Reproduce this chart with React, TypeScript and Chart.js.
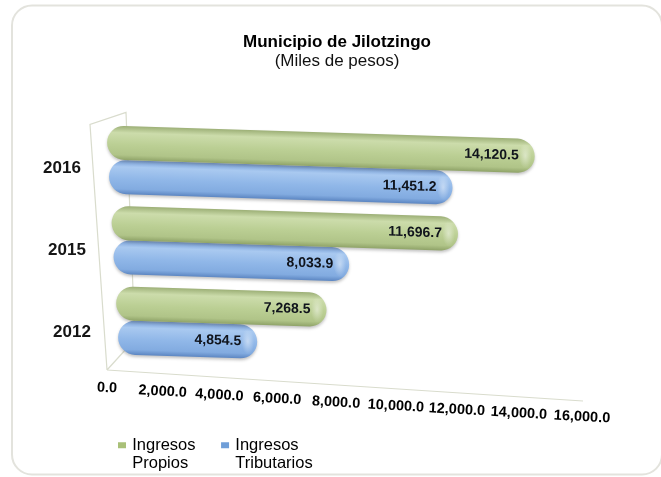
import React, { useEffect, useRef } from "react";
import { Chart, registerables } from "chart.js";

Chart.register(...registerables);

const titleText = "Municipio de Jilotzingo";
const subtitleText = "(Miles de pesos)";
const years = ["2016", "2015", "2012"];
const ingresosPropios = [14120.5, 11696.7, 7268.5];
const ingresosTributarios = [11451.2, 8033.9, 4854.5];
const axisMax = 16000;
const axisStep = 2000;
const legendPropios = ["Ingresos", "Propios"];
const legendTributarios = ["Ingresos", "Tributarios"];

const SHEAR = 0.032;
const FONT = "'Liberation Sans', Arial, sans-serif";
const fmt = (v: number) =>
  v.toLocaleString("en-US", { minimumFractionDigits: 1, maximumFractionDigits: 1 });

const palette = [
  { stops: ["#9db077", "#ccdcab", "#bbcf94", "#b0c488", "#8fa368"], swatch: "#a9c078" },
  { stops: ["#739cd6", "#a9c9f0", "#90b7e8", "#82abe0", "#5c86c2"], swatch: "#6f9ed8" },
];

const perspective: any = {
  id: "perspective",
  afterDatasetsUpdate(chart: any) {
    const { left, width, top, height } = chart.chartArea;
    chart.data.datasets.forEach((_: any, d: number) => {
      chart.getDatasetMeta(d).data.forEach((el: any) => {
        const u = (el.x - left) / width;
        const t = (el.y - top) / height;
        const start = left + 0.8 + 13.6 * t;
        const m = 1.06 - 0.07 * t;
        el.base = start;
        el.x = start + u * width * m;
        el.width = el.x - el.base;
      });
    });
  },
  beforeDraw(chart: any) {
    const { ctx, width, height } = chart;
    ctx.save();
    ctx.fillStyle = "#ffffff";
    ctx.fillRect(0, 0, width, height);
    ctx.strokeStyle = "#e3e3dd";
    ctx.lineWidth = 2;
    ctx.beginPath();
    ctx.roundRect(12, 5.5, 650, 469, 20);
    ctx.stroke();
    ctx.restore();

    const xs = chart.scales.x;
    xs.getLabelItems().forEach((item: any, i: number) => {
      const u = xs.ticks[i].value / axisMax;
      item.options.translation = [107 + 475 * u - 34 * u * (1 - u), 388 + 29 * u];
      item.options.rotation = 0.055;
      item.options.textAlign = "center";
      item.options.textBaseline = "middle";
      item.textOffset = 0;
    });
    const ys = chart.scales.y;
    ys.getLabelItems().forEach((item: any, i: number) => {
      item.options.translation = [62 + 5 * i, ys.getPixelForTick(i) + 9 + i * 1.5];
      item.options.rotation = 0;
      item.options.textAlign = "center";
      item.options.textBaseline = "middle";
      item.textOffset = 0;
    });

    // title block is centred on the framed panel, not on the plot
    chart.boxes.forEach((b: any) => {
      if (b.options && (b.options.text === titleText || b.options.text === subtitleText)) {
        b.left = 13;
        b.right = 661;
      }
    });

    // legend block sits under the plot, first text line at y = 437 top
    const leg = chart.legend;
    const pad = leg.options.labels.padding;
    leg.left = 120 - pad;
    leg.right = 600;
    leg.top = 437 - pad;
    leg.bottom = 477;
    leg.draw = function () {
      this._draw();
    };
  },
  beforeDatasetsDraw(chart: any) {
    const { ctx, chartArea } = chart;
    const { left, right, top, bottom } = chartArea;

    const fl = left + 2;
    const fb = bottom + 10;
    ctx.save();
    ctx.strokeStyle = "#d9dccd";
    ctx.lineWidth = 1.2;
    ctx.beginPath();
    ctx.moveTo(fl, fb);
    ctx.lineTo(right + 18, fb + 31);
    ctx.moveTo(fl, fb);
    ctx.lineTo(left - 15, top + 5);
    ctx.lineTo(left + 21, top - 7);
    ctx.lineTo(left + 30, bottom - 20);
    ctx.moveTo(fl, fb);
    ctx.lineTo(left + 22, bottom - 12);
    ctx.stroke();
    ctx.restore();

    chart.data.datasets.forEach((_: any, d: number) => {
      chart.getDatasetMeta(d).data.forEach((el: any) => {
        const h = el.height;
        const g = ctx.createLinearGradient(0, el.y - h / 2, 0, el.y + h / 2);
        const s = palette[d].stops;
        g.addColorStop(0, s[0]);
        g.addColorStop(0.2, s[1]);
        g.addColorStop(0.55, s[2]);
        g.addColorStop(0.85, s[3]);
        g.addColorStop(1, s[4]);
        el.options = { ...el.options, backgroundColor: g };
      });
    });

    ctx.save();
    ctx.transform(1, SHEAR, 0, 1, 0, -SHEAR * left);
    ctx.shadowColor = "rgba(90,90,90,0.35)";
    ctx.shadowBlur = 3;
    ctx.shadowOffsetY = 2;
  },
  afterDatasetsDraw(chart: any) {
    const { ctx } = chart;
    ctx.shadowColor = "transparent";
    ctx.shadowBlur = 0;
    ctx.shadowOffsetY = 0;
    chart.data.datasets.forEach((ds: any, d: number) => {
      chart.getDatasetMeta(d).data.forEach((el: any, i: number) => {
        const r = el.height / 2;
        const cx = el.x - r * 0.55;
        ctx.save();
        ctx.translate(cx, el.y);
        ctx.scale(0.5, 1);
        const g = ctx.createRadialGradient(0, 0, 0, 0, 0, r * 0.75);
        g.addColorStop(0, "rgba(255,255,255,0.45)");
        g.addColorStop(1, "rgba(255,255,255,0)");
        ctx.fillStyle = g;
        ctx.beginPath();
        ctx.arc(0, 0, r * 0.75, 0, Math.PI * 2);
        ctx.fill();
        ctx.restore();

        ctx.fillStyle = "#10141c";
        ctx.font = `bold 14px ${FONT}`;
        ctx.textAlign = "right";
        ctx.textBaseline = "middle";
        ctx.fillText(fmt(ds.data[i]), el.x - 16, el.y);
      });
    });
    ctx.restore();
  },
};

export default function App() {
  const ref = useRef<HTMLCanvasElement | null>(null);
  useEffect(() => {
    const chart = new Chart(ref.current as HTMLCanvasElement, {
      type: "bar",
      plugins: [perspective],
      data: {
        labels: years,
        datasets: [
          { label: "Ingresos Propios", data: ingresosPropios, backgroundColor: palette[0].swatch, clip: false },
          { label: "Ingresos Tributarios", data: ingresosTributarios, backgroundColor: palette[1].swatch, clip: false },
        ],
      } as any,
      options: {
        indexAxis: "y",
        animation: false,
        responsive: false,
        layout: { padding: { left: 12, right: 96, top: 33, bottom: 4 } },
        datasets: {
          bar: {
            categoryPercentage: 0.85,
            barPercentage: 1,
            borderRadius: 40,
            borderSkipped: false,
            borderWidth: 0,
          },
        },
        scales: {
          x: {
            min: 0,
            max: axisMax,
            grid: { display: false },
            border: { display: false },
            afterFit: (s: any) => { s.height = 113; },
            ticks: {
              stepSize: axisStep,
              autoSkip: false,
              maxRotation: 0,
              minRotation: 0,
              color: "#000000",
              font: { family: FONT, size: 14.5, weight: "bold" },
              callback: (v: any) => fmt(Number(v)),
            },
          },
          y: {
            grid: { display: false },
            border: { display: false },
            afterFit: (s: any) => { s.width = 93; },
            ticks: {
              color: "#151515",
              font: { family: FONT, size: 17, weight: "bold" },
            },
          },
        },
        plugins: {
          tooltip: { enabled: false },
          title: {
            display: true,
            text: titleText,
            color: "#000000",
            font: { family: FONT, size: 17, weight: "bold", lineHeight: 1.1 },
            padding: { top: 0, bottom: 0 },
          },
          subtitle: {
            display: true,
            text: subtitleText,
            color: "#111111",
            font: { family: FONT, size: 17, weight: "normal", lineHeight: 1.1 },
            padding: { top: 0, bottom: 49 },
          },
          legend: {
            position: "bottom",
            align: "start",
            labels: {
              color: "#222222",
              font: { family: FONT, size: 16.5, lineHeight: 1.1 },
              boxWidth: 4,
              boxHeight: 2,
              padding: -33,
              generateLabels: () => [
                { text: legendPropios, fillStyle: palette[0].swatch, strokeStyle: palette[0].swatch, lineWidth: 4, datasetIndex: 0 },
                { text: legendTributarios, fillStyle: palette[1].swatch, strokeStyle: palette[1].swatch, lineWidth: 4, datasetIndex: 1 },
              ],
            },
          },
        },
      } as any,
    });
    return () => chart.destroy();
  }, []);
  return (
    <div style={{ position: "fixed", left: 0, top: 0, width: 661, height: 477, background: "#fff" }}>
      <canvas ref={ref} width={661} height={477} style={{ display: "block" }} />
    </div>
  );
}
